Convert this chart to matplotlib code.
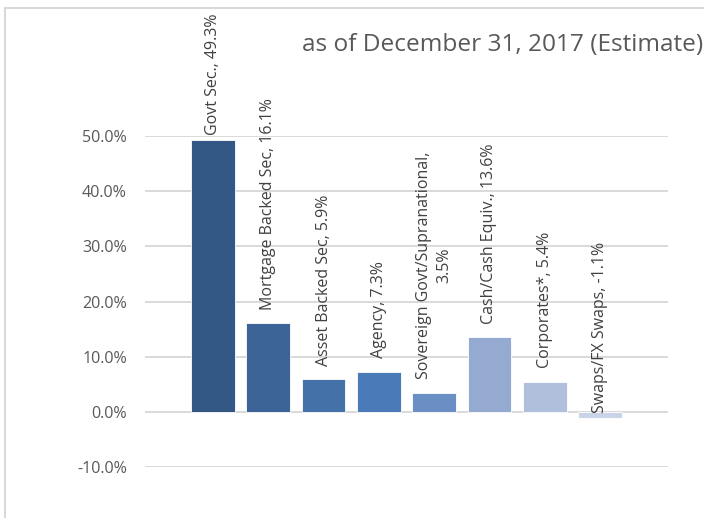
import matplotlib
matplotlib.use("Agg")
import matplotlib.pyplot as plt
from matplotlib.lines import Line2D
from matplotlib.ticker import FuncFormatter

# Sector allocation (share of portfolio)
categories = [
    "Govt Sec.",
    "Mortgage Backed Sec",
    "Asset Backed Sec",
    "Agency",
    "Sovereign Govt/Supranational",
    "Cash/Cash Equiv.",
    "Corporates*",
    "Swaps/FX Swaps",
]
values = [49.3, 16.1, 5.9, 7.3, 3.5, 13.6, 5.4, -1.1]
yticks = [-10, 0, 10, 20, 30, 40, 50]
title = "as of December 31, 2017 (Estimate)"

colors = ["#345885", "#3C6497", "#4471A8", "#4A7BB8",
          "#6A8FC5", "#95AAD1", "#AFBFDC", "#C9D4E8"]
# label text breaks and offsets (points above the bar end)
label_breaks = {4: ",\n"}
label_offsets = [3.5, 9.5, 9.5, 9.5, 9.5, 9.0, 10.0, -1.0]

plt.rcParams["font.family"] = ["Open Sans", "DejaVu Sans"]

fig = plt.figure(figsize=(7.04, 5.18), dpi=100)
ax = fig.add_axes([145 / 704, 51 / 518, 523 / 704, 331 / 518])

x = list(range(len(values)))
ax.bar(x, values, width=0.79, color=colors, edgecolor="white",
       linewidth=0.6, zorder=3)

ax.set_xlim(-1.23, len(values) - 1 + 1.23)
ax.set_ylim(-10, 50)
ax.set_yticks(yticks)
ax.yaxis.set_major_formatter(FuncFormatter(lambda v, _: f"{v:.1f}%"))
ax.tick_params(axis="y", length=0, pad=13, labelsize=11.6,
               labelcolor="#595959")
ax.set_xticks([])
ax.grid(axis="y", color="#D9D9D9", linewidth=1.4, zorder=0)
for s in ax.spines.values():
    s.set_visible(False)

for i, (cat, v) in enumerate(zip(categories, values)):
    sep = label_breaks.get(i, ", ")
    txt = f"{cat}{sep}{v:.1f}%"
    base = max(v, 0)
    ax.annotate(txt, xy=(i, base), xytext=(0, label_offsets[i]),
                textcoords="offset points", rotation=90,
                ha="center", va="bottom", multialignment="center",
                linespacing=1.35,
                fontsize=11.5, color="#404040", annotation_clip=False,
                zorder=4)

fig.text(1 - 1 / 704, 1 - 45 / 518, title, ha="right", va="center",
         fontsize=17.6, color="#595959")

# chart-area frame on left and top
fig.add_artist(Line2D([5 / 704, 5 / 704], [0, 1 - 8 / 518],
                      transform=fig.transFigure, color="#D9D9D9", lw=1.5))
fig.add_artist(Line2D([5 / 704, 1], [1 - 8 / 518, 1 - 8 / 518],
                      transform=fig.transFigure, color="#D9D9D9", lw=1.5))

fig.savefig("out.png", dpi=100)
